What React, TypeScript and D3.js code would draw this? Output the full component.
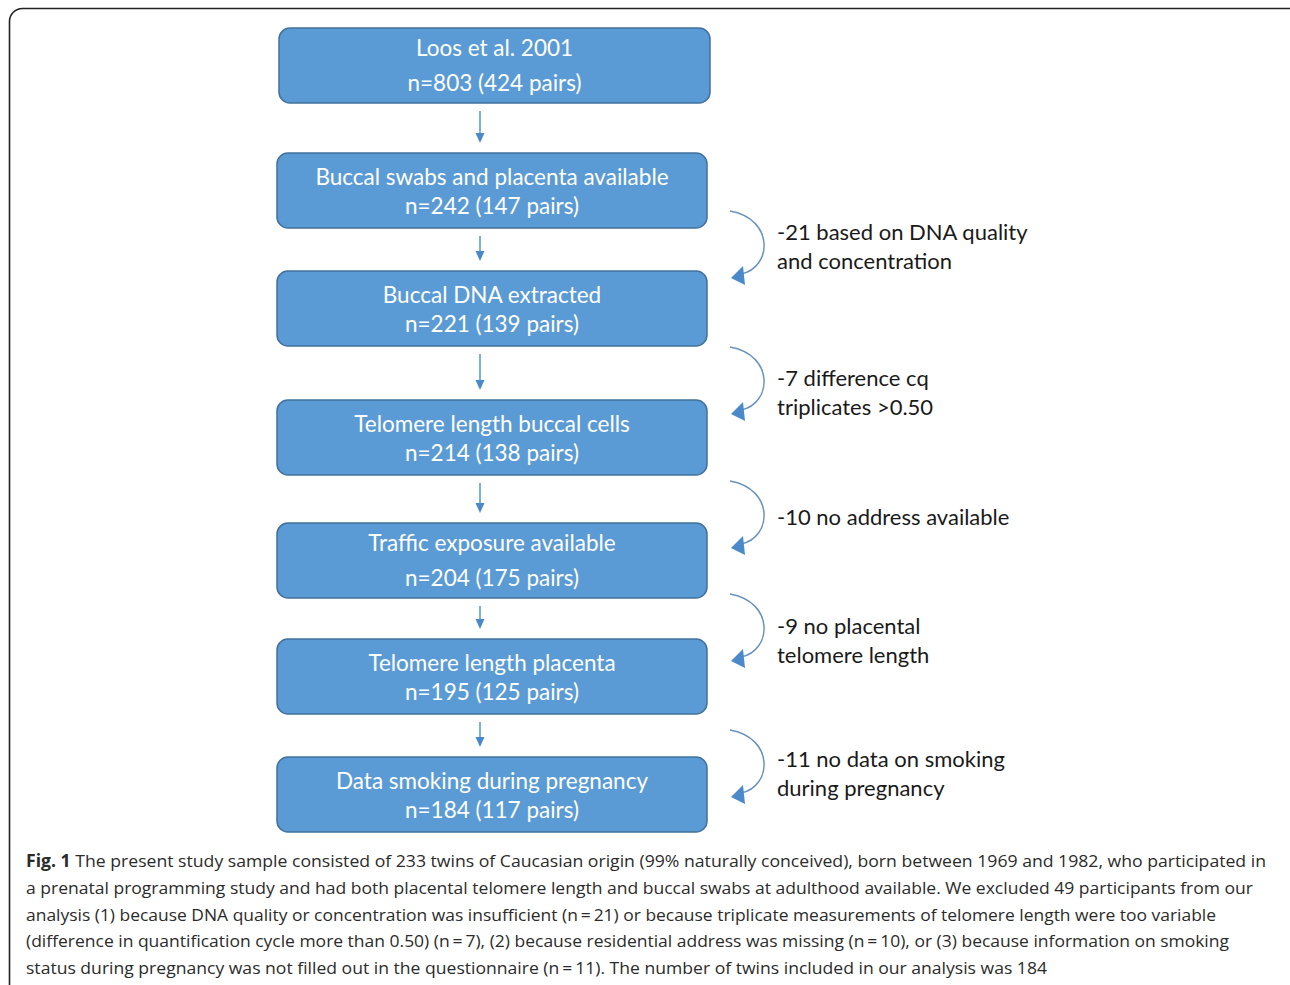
import React from "react";
import * as d3 from "d3";

const stageTitles = [
  "Loos et al. 2001",
  "Buccal swabs and placenta available",
  "Buccal DNA extracted",
  "Telomere length buccal cells",
  "Traffic exposure available",
  "Telomere length placenta",
  "Data smoking during pregnancy",
];
const stageN = [803, 242, 221, 214, 204, 195, 184];
const stagePairs = [424, 147, 139, 138, 175, 125, 117];

const exclusionCount = [21, 7, 10, 9, 11];
const exclusionText = [
  ["based on DNA quality", "and concentration"],
  ["difference cq", "triplicates >0.50"],
  ["no address available"],
  ["no placental", "telomere length"],
  ["no data on smoking", "during pregnancy"],
];

const captionLines = [
  " The present study sample consisted of 233 twins of Caucasian origin (99% naturally conceived), born between 1969 and 1982, who participated in",
  "a prenatal programming study and had both placental telomere length and buccal swabs at adulthood available. We excluded 49 participants from our",
  "analysis (1) because DNA quality or concentration was insufficient (n\u2009=\u200921) or because triplicate measurements of telomere length were too variable",
  "(difference in quantification cycle more than 0.50) (n\u2009=\u20097), (2) because residential address was missing (n\u2009=\u200910), or (3) because information on smoking",
  "status during pregnancy was not filled out in the questionnaire (n\u2009=\u200911). The number of twins included in our analysis was 184",
];

// layout (not data)
const W = 1290;
const H = 985;
const boxTops = [28, 153, 271, 400, 523, 639, 757];
const boxH = 75;
const exclTops = [211, 347, 481, 594, 730];
const exclLabelTops = [231, 377, 516, 625, 758];
const captionEnds = [1266, 1253, 1216, 1229, 1047];

export default function App() {
  const xBox = d3.scaleLinear().domain([0, 1]).range([277, 707]);
  const arrowX = 480;
  const capY = d3.scaleLinear().domain([0, 1]).range([867, 893.8]);

  const boxFill = "#5b9bd5";
  const boxStroke = "#41719c";
  const font = "Lato, 'Open Sans', sans-serif";

  const downArrows = stageTitles.slice(1).map((_, i) => {
    const y0 = boxTops[i] + boxH + 8;
    const y1 = boxTops[i + 1] - 10;
    return { y0, y1 };
  });

  return (
    <div style={{ position: "fixed", left: 0, top: 0 }}>
      <svg width={W} height={H} viewBox={`0 0 ${W} ${H}`} style={{ display: "block", background: "#fff" }}>
        <rect x={9.5} y={8.5} width={1300} height={1000} rx={13} fill="none" stroke="#222" strokeWidth={1.6} />

        {stageTitles.map((t, i) => {
          const y = boxTops[i];
          const x0 = i === 0 ? xBox(0) + 2 : xBox(0);
          const x1 = i === 0 ? xBox(1) + 3 : xBox(1);
          const cx = (x0 + x1) / 2;
          const first = i === 0 || i === 4;
          const l1 = first ? y + 19 : y + 23;
          const l2 = first ? y + 54 : y + 52;
          return (
            <g key={t}>
              <rect x={x0} y={y} width={x1 - x0} height={boxH} rx={11} fill={boxFill} stroke={boxStroke} strokeWidth={1.5} />
              <text x={cx} y={l1} textAnchor="middle" dominantBaseline="central" fill="#fff" fontFamily={font} fontSize={22.5}>
                {t}
              </text>
              <text x={cx} y={l2} textAnchor="middle" dominantBaseline="central" fill="#fff" fontFamily={font} fontSize={22.5}>
                {`n=${stageN[i]} (${stagePairs[i]} pairs)`}
              </text>
            </g>
          );
        })}

        {downArrows.map((a, i) => (
          <g key={i}>
            <line x1={arrowX} x2={arrowX} y1={a.y0} y2={a.y1 - 8} stroke="#5b9bd5" strokeWidth={1.6} />
            <path d={`M${arrowX - 4.5},${a.y1 - 10} L${arrowX + 4.5},${a.y1 - 10} L${arrowX},${a.y1} Z`} fill="#4a8acb" />
          </g>
        ))}

        {exclusionCount.map((c, i) => {
          const top = exclTops[i];
          const bot = top + 67;
          const path = d3.path();
          path.moveTo(730, top);
          path.bezierCurveTo(775, top + 8, 772, bot - 10, 741, bot - 4);
          const lines = exclusionText[i];
          const ly = exclLabelTops[i];
          return (
            <g key={i}>
              <path d={path.toString()} fill="none" stroke="#6a93bd" strokeWidth={1.5} />
              <path d={`M${731},${bot} L${743},${bot - 12} L${745},${bot + 7} Z`} fill="#4a8acb" />
              {lines.map((l, j) => (
                <text key={j} x={777} y={ly + j * 29} dominantBaseline="central" fill="#1a1a1a" fontFamily={font} fontSize={22}>
                  {j === 0 ? `-${c} ${l}` : l}
                </text>
              ))}
            </g>
          );
        })}

        {captionLines.map((l, i) => (
          <text
            key={i}
            x={26}
            y={capY(i)}
            fill="#2b2b2b"
            fontFamily="'Open Sans', sans-serif"
            fontSize={17}
            textLength={captionEnds[i] - 26}
            lengthAdjust="spacingAndGlyphs"
          >
            {i === 0 ? <tspan fontWeight="bold">Fig. 1</tspan> : null}
            {l}
          </text>
        ))}
      </svg>
    </div>
  );
}
